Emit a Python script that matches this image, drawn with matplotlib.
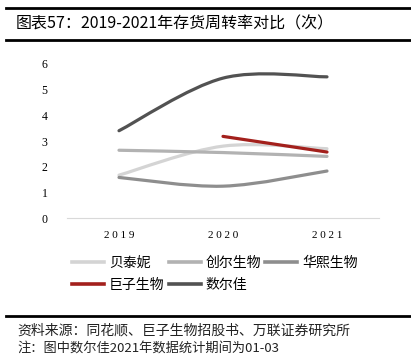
import matplotlib
matplotlib.use('Agg')
from matplotlib import pyplot as plt
from matplotlib.path import Path
from matplotlib.patches import PathPatch
from matplotlib.lines import Line2D

plt.rcParams['font.family'] = ['Noto Sans CJK SC', 'DejaVu Sans']

# Data
years = ['2019', '2020', '2021']
series_names = ['贝泰妮', '创尔生物', '华熙生物', '巨子生物', '数尔佳']
betaini = [1.67, 2.80, 2.70]
chuanger = [2.64, 2.55, 2.40]
huaxi = [1.58, 1.24, 1.83]
juzi = [None, 3.18, 2.57]
shuerjia = [3.40, 5.45, 5.50]
series_values = [betaini, chuanger, huaxi, juzi, shuerjia]
colors = ['#d4d4d4', '#b2b2b2', '#8e8e8e', '#a3201c', '#525252']

title = '图表57：2019-2021年存货周转率对比（次）'
source = '资料来源：同花顺、巨子生物招股书、万联证券研究所'
note = '注：图中数尔佳2021年数据统计期间为01-03'


def smooth_path(xs, ys):
    # Catmull-Rom style bezier, like an Excel "smoothed line"
    pts = list(zip(xs, ys))
    verts = [pts[0]]
    codes = [Path.MOVETO]
    for i in range(len(pts) - 1):
        p0 = pts[i - 1] if i > 0 else pts[i]
        p1 = pts[i]
        p2 = pts[i + 1]
        p3 = pts[i + 2] if i + 2 < len(pts) else pts[i + 1]
        c1 = (p1[0] + (p2[0] - p0[0]) / 6, p1[1] + (p2[1] - p0[1]) / 6)
        c2 = (p2[0] - (p3[0] - p1[0]) / 6, p2[1] - (p3[1] - p1[1]) / 6)
        verts += [c1, c2, p2]
        codes += [Path.CURVE4] * 3
    return Path(verts, codes)


fig = plt.figure(figsize=(4.11, 3.57), dpi=100)
ax = fig.add_axes([67 / 411, 1 - 218 / 357, 312 / 411, 154 / 357])

handles = []
for name, vals, c in zip(series_names, series_values, colors):
    xs = [i for i, v in enumerate(vals) if v is not None]
    ys = [v for v in vals if v is not None]
    ax.add_patch(PathPatch(smooth_path(xs, ys), facecolor='none', edgecolor=c,
                           lw=2.3, capstyle='round', joinstyle='round'))
    handles.append(Line2D([0], [0], color=c, lw=2.6))

ax.set_xlim(-0.5, 2.5)
ax.set_ylim(0, 6)
ax.set_xticks(range(len(years)))
ax.set_xticklabels([' '.join(y) for y in years], family='Liberation Serif', fontsize=8)
ax.set_yticks(range(7))
ax.set_yticklabels([str(i) for i in range(7)], family='Liberation Serif', fontsize=8.5)
ax.tick_params(length=0)
ax.tick_params(axis='y', pad=14)
ax.tick_params(axis='x', pad=9)
for s in ['top', 'right', 'left']:
    ax.spines[s].set_visible(False)
ax.spines['bottom'].set_color('#d9d9d9')
ax.spines['bottom'].set_linewidth(0.8)

# legend: order so columns fill rows like the reference
order = [0, 3, 1, 4, 2]
fig.legend([handles[i] for i in order], [series_names[i] for i in order],
           ncol=3, loc='upper left', bbox_to_anchor=(72 / 411, 1 - 256 / 357),
           frameon=False, fontsize=10, handlelength=2.3, handletextpad=0.36,
           columnspacing=0.3, labelspacing=0.6, borderpad=0, borderaxespad=0)

# title block
fig.add_artist(Line2D([6 / 411, 1], [1 - 8 / 357] * 2, color='black', lw=2))
fig.add_artist(Line2D([6 / 411, 1], [1 - 40 / 357] * 2, color='black', lw=2))
fig.text(16 / 411, 1 - 24 / 357, title, fontsize=11.5, va='center', ha='left')

# footer
fig.add_artist(Line2D([6 / 411, 1], [1 - 316 / 357] * 2, color='black', lw=2))
fig.text(17 / 411, 1 - 331 / 357, source, fontsize=10, va='center', ha='left',
         color='#222222')
fig.text(17 / 411, 1 - 348 / 357, note, fontsize=9.5, va='center', ha='left',
         color='#222222')

fig.savefig('out.png', dpi=100)
